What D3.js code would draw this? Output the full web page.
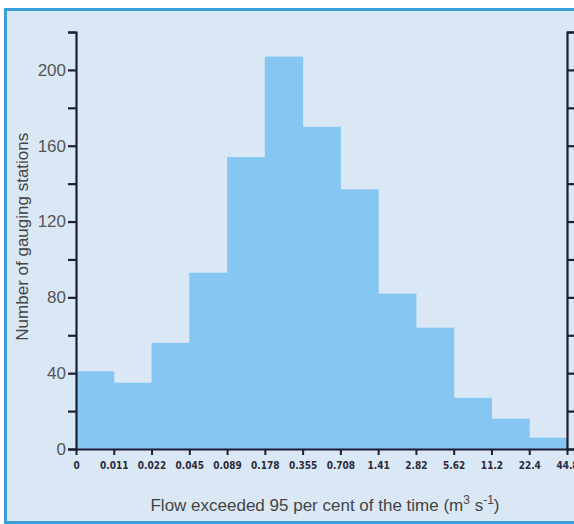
<!DOCTYPE html>
<html>
<head>
<meta charset="utf-8">
<script src="https://cdn.jsdelivr.net/npm/d3@7"></script>
<style>
  html, body { margin: 0; padding: 0; background: #fff; }
  svg { display: block; }
</style>
</head>
<body>
<div id="chart"></div>
<script>
// bin edges (m3/s) and number of stations per bin
const edges = ['0', '0.011', '0.022', '0.045', '0.089', '0.178', '0.355', '0.708', '1.41', '2.82', '5.62', '11.2', '22.4', '44.8'];
const counts = [41, 35, 56, 93, 154, 207, 170, 137, 82, 64, 27, 16, 6];
const yTicks = [0, 20, 40, 60, 80, 100, 120, 140, 160, 180, 200, 220];
const yLabels = [0, 40, 80, 120, 160, 200];

const width = 574, height = 524;
const m = { top: 32, right: 7, bottom: 75, left: 76 };

const svg = d3.select('#chart').append('svg')
  .attr('width', width)
  .attr('height', height);

// panel background + blue frame
svg.append('rect').attr('x', 5).attr('y', 9).attr('width', width - 5).attr('height', height - 9)
  .attr('fill', '#dae8f5');
svg.append('line').attr('x1', 4).attr('x2', width).attr('y1', 9.5).attr('y2', 9.5)
  .attr('stroke', '#3d9edc').attr('stroke-width', 3);
svg.append('line').attr('x1', 5.5).attr('x2', 5.5).attr('y1', 8).attr('y2', height)
  .attr('stroke', '#3d9edc').attr('stroke-width', 3);
svg.append('line').attr('x1', 4).attr('x2', width).attr('y1', 522.5).attr('y2', 522.5)
  .attr('stroke', '#3d9edc').attr('stroke-width', 3);

const x = d3.scaleBand()
  .domain(d3.range(edges.length - 1))
  .range([m.left, width - m.right])
  .paddingInner(0).paddingOuter(0);

const xEdge = d3.scalePoint()
  .domain(edges)
  .range([m.left, width - m.right]);

const y = d3.scaleLinear()
  .domain([0, 220])
  .range([height - m.bottom, m.top]);

// histogram bars
svg.append('g').selectAll('rect')
  .data(counts)
  .join('rect')
  .attr('x', (d, i) => x(i))
  .attr('width', x.bandwidth() + 0.5)
  .attr('y', d => y(d))
  .attr('height', d => y(0) - y(d))
  .attr('fill', '#85c6f3');

// left axis
const left = d3.axisLeft(y).tickValues(yTicks).tickSize(8).tickPadding(2)
  .tickFormat(d => yLabels.includes(d) ? d : '');
const gl = svg.append('g')
  .attr('transform', `translate(${m.left},0)`)
  .call(left);
gl.select('.domain').attr('stroke', '#1e1e33').attr('stroke-width', 2.2);
gl.selectAll('.tick line').attr('stroke', '#1e1e33').attr('stroke-width', 2.2);
gl.selectAll('.tick text')
  .attr('fill', '#555')
  .style('font-family', '"Liberation Sans", Arial, sans-serif')
  .style('font-size', '17px');

// right axis (labels cut off by the frame)
const right = d3.axisRight(y).tickValues(yTicks).tickSize(8).tickFormat('');
const gr = svg.append('g')
  .attr('transform', `translate(${width - m.right},0)`)
  .call(right);
gr.select('.domain').attr('stroke', '#1e1e33').attr('stroke-width', 2.2);
gr.selectAll('.tick line').attr('stroke', '#1e1e33').attr('stroke-width', 2.2);

// bottom axis
const bottom = d3.axisBottom(xEdge).tickSize(6).tickPadding(7).tickSizeOuter(0);
const gb = svg.append('g')
  .attr('transform', `translate(0,${y(0)})`)
  .call(bottom);
gb.select('.domain').attr('stroke', '#1e1e33').attr('stroke-width', 2.2);
gb.selectAll('.tick line').attr('stroke', '#1e1e33').attr('stroke-width', 2);
gb.selectAll('.tick text')
  .attr('fill', '#2b2b3a')
  .style('font-family', '"DejaVu Sans", sans-serif')
  .style('font-stretch', 'condensed')
  .style('font-weight', 'bold')
  .style('font-size', '10px');

// axis titles
const xt = svg.append('text')
  .attr('x', 325).attr('y', 511)
  .attr('text-anchor', 'middle')
  .attr('fill', '#444')
  .style('font-family', '"Liberation Sans", Arial, sans-serif')
  .style('font-size', '17px');
xt.append('tspan').text('Flow exceeded 95 per cent of the time (m');
xt.append('tspan').attr('dy', -7).style('font-size', '12px').text('3');
xt.append('tspan').attr('dy', 7).text(' s');
xt.append('tspan').attr('dy', -7).style('font-size', '12px').text('-1');
xt.append('tspan').attr('dy', 7).text(')');

svg.append('text')
  .attr('transform', `translate(28,${y(112)}) rotate(-90)`)
  .attr('text-anchor', 'middle')
  .attr('fill', '#444')
  .style('font-family', '"Liberation Sans", Arial, sans-serif')
  .style('font-size', '17px')
  .text('Number of gauging stations');
</script>
</body>
</html>
